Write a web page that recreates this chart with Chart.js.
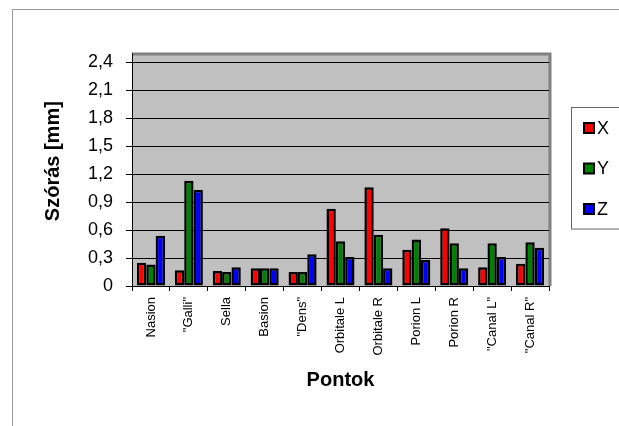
<!DOCTYPE html>
<html>
<head>
<meta charset="utf-8">
<script src="https://cdn.jsdelivr.net/npm/chart.js@4.4.1/dist/chart.umd.min.js"></script>
<style>
  html, body { margin: 0; padding: 0; background: #fff; }
  #wrap { width: 619px; height: 426px; }
</style>
</head>
<body>
<div id="wrap"><canvas id="szorasChart"></canvas></div>
<script>
const categories = ['Nasion', '"Galli"', 'Sella', 'Basion', '"Dens"', 'Orbitale L', 'Orbitale R', 'Porion L', 'Porion R', '"Canal L"', '"Canal R"'];
const xValues = [0.25, 0.17, 0.16, 0.19, 0.15, 0.83, 1.06, 0.39, 0.62, 0.20, 0.24];
const yValues = [0.23, 1.13, 0.15, 0.19, 0.15, 0.48, 0.55, 0.50, 0.46, 0.46, 0.47];
const zValues = [0.54, 1.03, 0.20, 0.19, 0.34, 0.31, 0.19, 0.28, 0.19, 0.31, 0.41];
const yTickValues = [0, 0.3, 0.6, 0.9, 1.2, 1.5, 1.8, 2.1, 2.4];
const yTickLabels = ['0', '0,3', '0,6', '0,9', '1,2', '1,5', '1,8', '2,1', '2,4'];

const FONT = 'Liberation Sans, Arial, sans-serif';

// grey plot background, grey frame on top/right, outer chart frame
const plotBackground = {
  id: 'plotBackground',
  beforeDraw(chart) {
    const { ctx, chartArea: a } = chart;
    ctx.save();
    ctx.strokeStyle = '#9a9a9a';
    ctx.lineWidth = 1;
    ctx.strokeRect(12.5, 9.5, 800, 600);
    ctx.fillStyle = '#c0c0c0';
    ctx.fillRect(a.left, a.top, a.right - a.left, a.bottom - a.top);
    ctx.strokeStyle = '#808080';
    ctx.lineWidth = 3;
    ctx.beginPath();
    ctx.moveTo(a.left, a.top + 1);
    ctx.lineTo(a.right + 1, a.top + 1);
    ctx.lineTo(a.right + 1, a.bottom);
    ctx.stroke();
    ctx.restore();
  }
};

// boxed legend on the right, like the original
const boxLegend = {
  id: 'boxLegend',
  afterDraw(chart) {
    const { ctx } = chart;
    ctx.save();
    ctx.strokeStyle = '#666';
    ctx.lineWidth = 1;
    ctx.strokeRect(571.5, 107.5, 80, 121.5);
    ctx.font = '18px ' + FONT;
    ctx.textBaseline = 'middle';
    ctx.textAlign = 'left';
    chart.data.datasets.forEach((ds, i) => {
      const cy = 128 + i * 40.5;
      ctx.fillStyle = ds.backgroundColor;
      ctx.fillRect(584, cy - 5, 10, 10);
      ctx.strokeStyle = '#000';
      ctx.lineWidth = 2;
      ctx.strokeRect(584, cy - 5, 10, 10);
      ctx.fillStyle = '#000';
      ctx.fillText(ds.label, 597, cy + 1);
    });
    ctx.restore();
  }
};

new Chart(document.getElementById('szorasChart'), {
  type: 'bar',
  data: {
    labels: categories,
    datasets: [
      { label: 'X', data: xValues, backgroundColor: '#ff0000' },
      { label: 'Y', data: yValues, backgroundColor: '#008000' },
      { label: 'Z', data: zValues, backgroundColor: '#0000ff' }
    ]
  },
  options: {
    responsive: true,
    maintainAspectRatio: false,
    animation: false,
    layout: { padding: { left: 0, top: 53, right: 70, bottom: 0 } },
    datasets: {
      bar: {
        borderColor: '#000',
        borderWidth: 2.5,
        borderSkipped: false,
        categoryPercentage: 0.74,
        barPercentage: 1.0
      }
    },
    plugins: {
      legend: { display: false },
      tooltip: { enabled: false }
    },
    scales: {
      x: {
        afterFit(scale) { scale.height = 140; },
        grid: { drawOnChartArea: false, drawTicks: true, tickLength: 5, color: '#000', offset: true },
        border: { display: true, color: '#000', width: 1 },
        ticks: { color: '#000', font: { family: FONT, size: 13 }, minRotation: 90, maxRotation: 90, padding: 6, autoSkip: false },
        title: { display: true, text: 'Pontok', color: '#000', font: { family: FONT, size: 20, weight: 'bold' }, padding: { top: 0, bottom: 34 } }
      },
      y: {
        min: 0,
        max: 2.5,
        afterFit(scale) { scale.width = 132; },
        afterBuildTicks(scale) { scale.ticks = yTickValues.map(v => ({ value: v })); },
        grid: { color: '#000', lineWidth: 1, tickLength: 6 },
        border: { display: true, color: '#000', width: 1 },
        ticks: {
          color: '#000',
          font: { family: FONT, size: 18 },
          padding: 13,
          callback: (value, index) => yTickLabels[index]
        },
        title: { display: true, text: '   Szórás [mm]', color: '#000', font: { family: FONT, size: 20, weight: 'bold' }, padding: { top: 41, bottom: 0 } }
      }
    }
  },
  plugins: [plotBackground, boxLegend]
});
</script>
</body>
</html>
